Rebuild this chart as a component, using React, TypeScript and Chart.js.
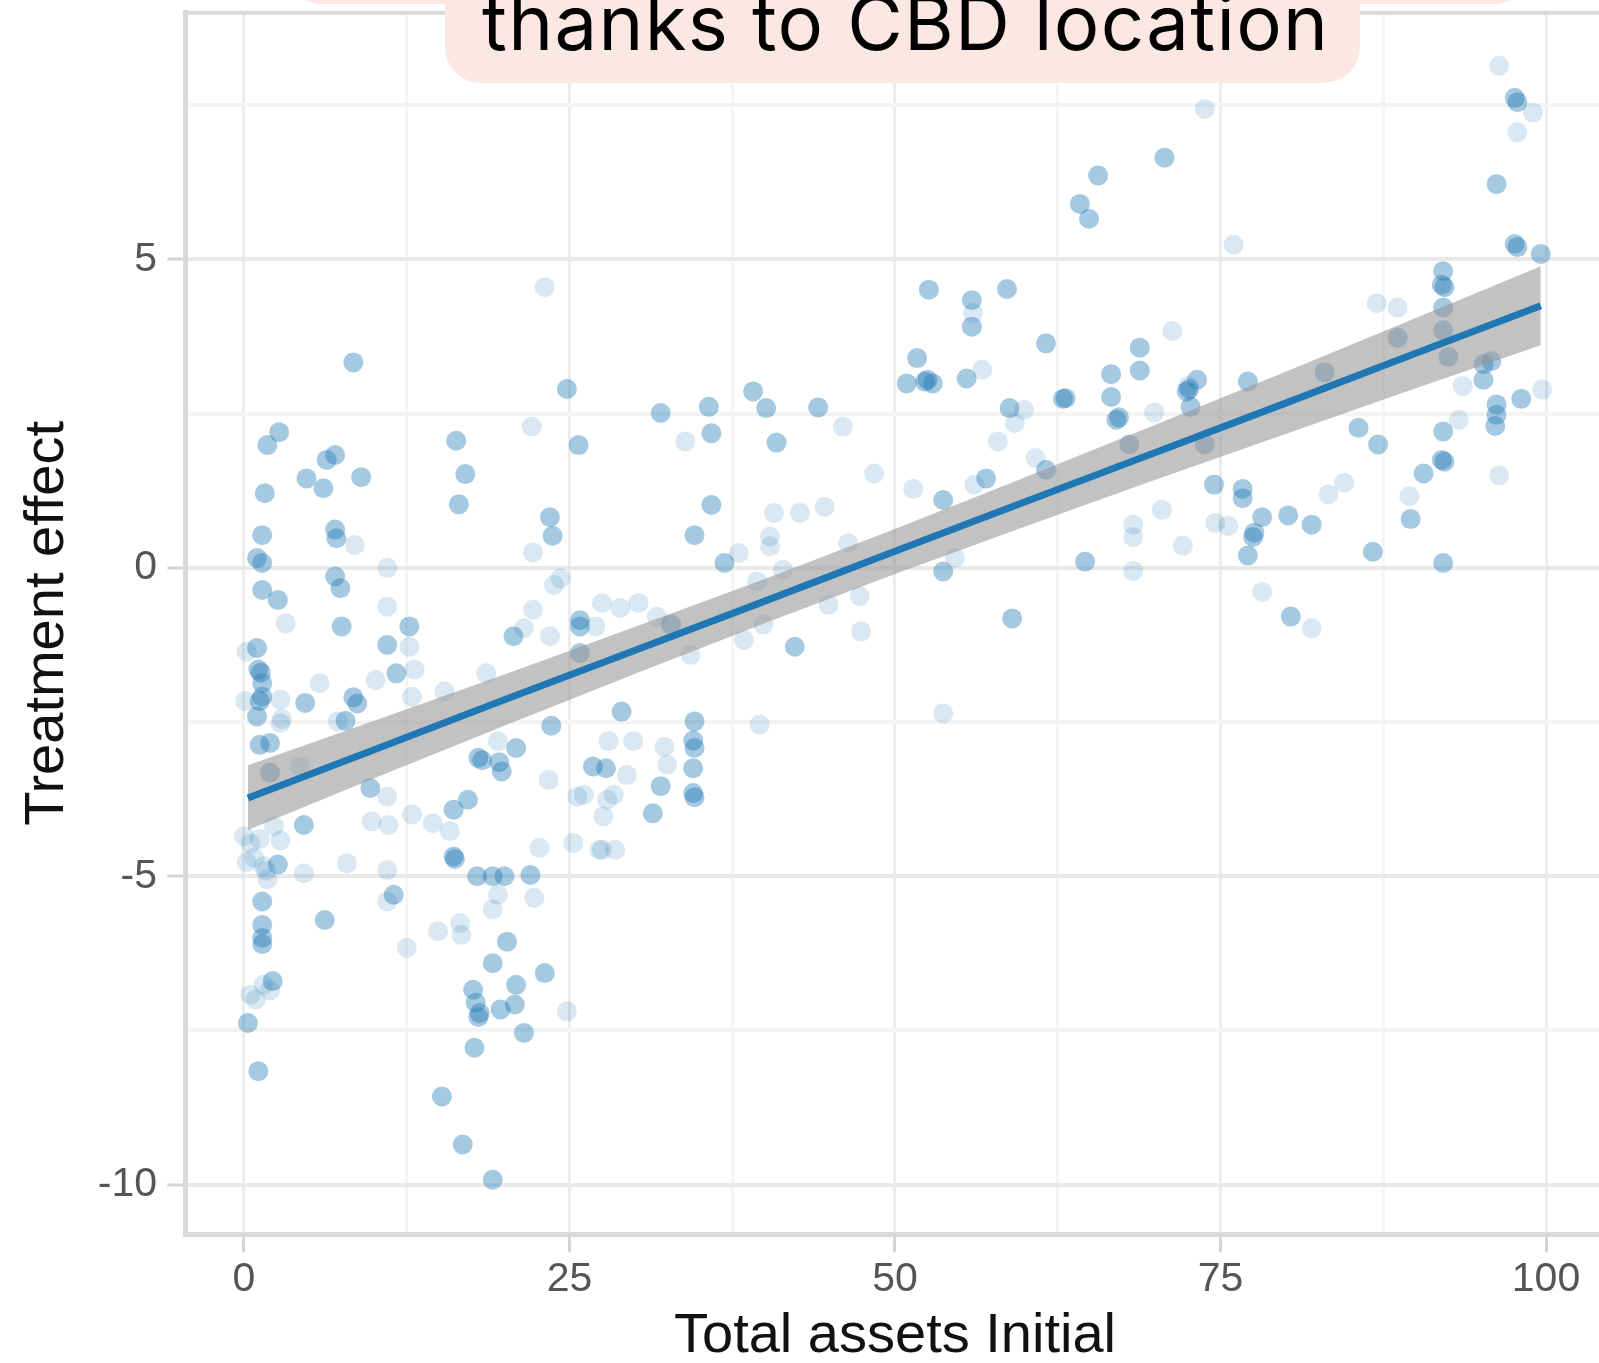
import React, { useEffect, useRef } from 'react';
import { Chart, registerables } from 'chart.js';

Chart.register(...registerables);

// ---------- text ----------
const titleText = 'thanks to CBD location';
const xTitle = 'Total assets Initial';
const yTitle = 'Treatment effect';

// ---------- ticks ----------
const xTicks = [0, 12.5, 25, 37.5, 50, 62.5, 75, 87.5, 100];
const yTicks = [-10, -7.5, -5, -2.5, 0, 2.5, 5, 7.5];
const xRange = [-4.5, 104.5];
const yRange = [-10.8, 9.0];

// ---------- linear fit and confidence band ----------
const fitX = [0.3, 10, 20, 30, 40, 50, 60, 70, 80, 90, 99.6];
const fitY = [-3.73, -2.95, -2.14, -1.34, -0.54, 0.27, 1.07, 1.87, 2.67, 3.48, 4.25];
const bandUpper = [-3.2, -2.48, -1.73, -0.96, -0.18, 0.63, 1.47, 2.32, 3.18, 4.05, 4.89];
const bandLower = [-4.25, -3.41, -2.56, -1.72, -0.9, -0.1, 0.67, 1.43, 2.17, 2.91, 3.61];

// ---------- observations (x = total assets initial, y = treatment effect) ----------
const mediumPoints: [number, number][] = [
  [8.4, 3.33], [24.8, 2.9], [2.7, 2.2], [1.8, 1.99], [16.3, 2.06], [25.7, 1.99], [6.35, 1.75], [7.0, 1.83],
  [4.8, 1.45], [6.1, 1.29], [9.0, 1.47], [17.0, 1.52], [1.6, 1.21], [16.5, 1.03], [23.5, 0.82], [23.7, 0.52],
  [1.4, 0.53], [1.0, 0.16], [1.4, 0.08], [7.0, 0.62], [7.1, 0.48], [7.0, -0.14], [7.4, -0.33], [1.4, -0.36],
  [2.6, -0.52], [7.5, -0.95], [12.7, -0.95], [11.0, -1.25], [25.8, -0.85], [25.8, -0.95], [20.7, -1.11],
  [25.8, -1.38], [1.1, -1.65], [1.3, -1.7], [1.4, -1.87], [1.4, -2.09], [1.0, -2.41], [4.7, -2.19], [8.4, -2.1],
  [8.7, -2.2], [11.7, -1.71], [7.8, -2.48],
  [1.2, -2.87], [2.0, -2.84], [9.7, -3.57], [4.6, -4.17], [16.1, -3.92], [17.2, -3.76], [18.0, -3.08],
  [19.6, -3.15], [19.8, -3.3], [18.3, -3.12], [20.9, -2.92], [26.8, -3.22], [27.8, -3.25], [16.1, -4.68],
  [16.2, -4.72], [17.9, -5.0], [19.1, -5.0], [20.0, -5.0], [22.0, -4.98], [11.5, -5.3], [2.6, -4.81],
  [1.4, -5.41], [1.4, -5.79], [1.4, -6.0], [1.4, -6.1], [6.2, -5.71], [20.2, -6.06], [19.1, -6.41],
  [23.1, -6.57], [17.6, -6.84], [20.9, -6.76], [20.8, -7.08], [18.1, -7.22], [18.0, -7.28], [17.8, -7.05],
  [19.7, -7.16], [21.5, -7.54], [17.7, -7.78], [0.3, -7.38], [1.1, -8.16], [15.2, -8.57], [16.8, -9.35],
  [19.1, -9.92], [2.2, -6.7], [23.6, -2.56], [1.0, -1.3], [1.2, -2.16], [2.0, -3.32],
  [52.6, 4.51], [55.9, 4.34], [55.9, 3.91], [58.6, 4.52], [61.6, 3.64], [51.7, 3.4], [50.9, 2.99], [52.3, 3.02],
  [52.5, 3.05], [52.9, 2.99], [55.5, 3.07], [63.1, 2.75], [58.8, 2.59], [32.0, 2.51], [35.7, 2.61], [35.9, 2.18],
  [39.1, 2.86], [40.1, 2.59], [40.9, 2.03], [44.1, 2.6], [53.7, 1.1], [57.0, 1.45], [61.6, 1.59], [35.9, 1.02],
  [34.6, 0.53], [36.9, 0.08], [53.7, -0.06], [64.6, 0.1], [32.8, -0.92], [42.3, -1.28], [59.0, -0.82],
  [29.0, -2.33], [34.6, -2.49], [34.5, -2.8], [34.6, -2.92], [34.5, -3.25], [34.5, -3.65], [34.6, -3.72],
  [32.0, -3.54], [31.4, -3.98],
  [97.6, 7.62], [97.8, 7.55], [70.7, 6.65], [65.6, 6.36], [64.2, 5.9], [64.9, 5.66], [96.2, 6.22], [97.6, 5.25],
  [97.8, 5.2], [99.6, 5.09], [92.1, 4.81], [92.0, 4.59], [92.2, 4.55], [68.8, 3.57], [68.8, 3.2], [66.6, 3.14],
  [66.6, 2.77], [62.9, 2.74], [67.0, 2.4], [67.2, 2.44], [73.2, 3.05], [72.4, 2.86], [72.6, 2.9], [72.7, 2.61],
  [77.1, 3.02], [83.0, 3.17], [88.6, 3.73], [92.1, 4.22], [92.1, 3.85], [92.5, 3.42], [95.2, 3.3], [95.8, 3.35],
  [95.2, 3.05], [96.2, 2.65], [96.2, 2.48], [96.1, 2.3], [98.1, 2.74], [92.1, 2.21], [92.0, 1.75], [92.2, 1.72],
  [90.6, 1.53], [89.6, 0.79], [86.7, 0.26], [92.1, 0.08], [85.6, 2.27], [87.1, 2.0], [74.5, 1.35], [76.7, 1.28],
  [76.7, 1.13], [78.2, 0.82], [77.6, 0.57], [77.5, 0.5], [77.1, 0.2], [80.2, 0.85], [82.0, 0.7], [80.4, -0.79],
  [68.0, 2.0], [73.8, 2.0],
];

const lightPoints: [number, number][] = [
  [23.1, 4.55], [22.1, 2.29], [22.2, 0.25], [8.5, 0.37], [11.0, 0.0], [3.2, -0.9], [11.0, -0.63], [23.8, -0.28],
  [24.3, -0.17], [27.5, -0.57], [27.0, -0.95], [21.5, -0.98], [22.2, -0.68], [23.5, -1.11], [12.7, -1.28],
  [5.8, -1.87], [13.1, -1.65], [10.1, -1.82], [18.6, -1.71], [15.4, -2.0], [12.9, -2.09], [2.8, -2.14],
  [2.8, -2.52], [7.2, -2.49], [4.3, -3.22], [11.0, -3.71], [9.8, -4.11], [11.1, -4.17], [12.9, -4.0],
  [14.5, -4.14], [15.8, -4.27], [19.5, -2.81], [23.4, -3.44], [25.6, -3.71], [27.6, -4.03], [27.9, -3.76],
  [25.3, -4.46], [27.3, -4.57], [22.7, -4.54], [19.5, -5.3], [22.3, -5.35], [19.1, -5.54], [11.0, -5.41],
  [7.9, -4.79], [4.6, -4.95], [1.5, -4.84], [0.8, -4.7], [1.8, -5.05], [12.5, -6.16], [14.9, -5.89],
  [16.6, -5.76], [16.7, -5.95], [24.8, -7.19], [1.5, -6.76], [2.0, -6.85], [0.5, -6.92], [0.9, -7.0],
  [1.2, -4.4], [0.5, -4.47], [2.3, -4.19], [0.2, -4.77], [1.7, -4.91], [0.1, -2.16], [0.2, -1.36], [2.9, -2.45],
  [0.0, -4.35], [2.8, -4.42], [28.0, -2.81], [29.9, -2.81], [32.3, -2.9], [29.4, -3.36], [32.5, -3.19],
  [26.1, -3.68], [28.4, -3.68], [27.5, -4.57], [28.5, -4.57], [39.6, -2.54], [53.7, -2.36], [11.0, -4.9],
  [56.0, 4.13], [56.7, 3.21], [59.9, 2.56], [59.2, 2.35], [57.9, 2.05], [33.9, 2.05], [46.0, 2.29], [48.4, 1.53],
  [51.4, 1.28], [60.8, 1.78], [56.1, 1.35], [40.7, 0.89], [42.7, 0.89], [44.6, 0.99], [40.4, 0.51], [40.4, 0.35],
  [38.0, 0.24], [46.4, 0.4], [54.6, 0.16], [41.4, -0.03], [39.4, -0.22], [28.9, -0.65], [30.3, -0.57],
  [31.7, -0.79], [47.3, -0.46], [44.9, -0.6], [47.4, -1.03], [39.9, -0.92], [38.4, -1.17], [34.3, -1.41],
  [96.4, 8.14], [99.0, 7.38], [97.8, 7.06], [73.8, 7.44], [76.0, 5.24], [87.0, 4.29], [88.6, 4.22], [71.3, 3.84],
  [69.9, 2.52], [93.6, 2.95], [99.7, 2.89], [93.3, 2.4], [89.5, 1.16], [96.4, 1.5], [84.5, 1.38], [83.3, 1.19],
  [70.5, 0.94], [68.3, 0.7], [68.3, 0.5], [72.1, 0.36], [74.6, 0.73], [75.6, 0.68], [68.3, -0.05], [78.2, -0.39],
  [82.0, -0.98], [72.5, 2.95],
];

// ---------- style ----------
const axisFont = '"Liberation Sans", Arial, sans-serif';
const CANVAS_W = 1620;
const CANVAS_H = 1400;

const isMajorX = (v: number) => Math.abs(v % 25) < 1e-9;
const isMajorY = (v: number) => Math.abs(v % 5) < 1e-9;

const panelTopPlugin = {
  id: 'panelTop',
  afterDraw(chart: any) {
    const { ctx, chartArea } = chart;
    ctx.save();
    ctx.strokeStyle = '#d9d9d9';
    ctx.lineWidth = 4;
    ctx.beginPath();
    ctx.moveTo(chartArea.left - 2.5, chartArea.top);
    ctx.lineTo(chartArea.right, chartArea.top);
    ctx.stroke();
    ctx.restore();
  },
};

const titleBoxPlugin = {
  id: 'titleBox',
  afterDraw(chart: any) {
    const ctx = chart.ctx as CanvasRenderingContext2D;
    ctx.save();
    ctx.fillStyle = '#fce8e2';
    ctx.beginPath();
    (ctx as any).roundRect(291, -130, 1234, 134, 30);
    ctx.fill();
    ctx.beginPath();
    (ctx as any).roundRect(445, -80, 915, 163, 36);
    ctx.fill();
    ctx.font = '400 76px Inter, "Open Sans", sans-serif';
    ctx.fillStyle = '#000000';
    ctx.textAlign = 'left';
    ctx.textBaseline = 'alphabetic';
    const w0 = ctx.measureText(titleText).width;
    const targetW = 846;
    const spacing = (targetW - w0) / (titleText.length - 1);
    (ctx as any).letterSpacing = spacing + 'px';
    ctx.fillText(titleText, 482, 50);
    ctx.restore();
  },
};

export default function App() {
  const ref = useRef<HTMLCanvasElement | null>(null);

  useEffect(() => {
    if (!ref.current) return;
    const chart = new Chart(ref.current, {
      type: 'scatter',
      data: {
        datasets: [
          {
            type: 'line',
            label: 'fit',
            data: fitX.map((x, i) => ({ x, y: fitY[i] })),
            borderColor: '#1f77b4',
            borderWidth: 7,
            pointRadius: 0,
            showLine: true,
            fill: false,
            tension: 0,
            order: 0,
          },
          {
            type: 'line',
            label: 'upper',
            data: fitX.map((x, i) => ({ x, y: bandUpper[i] })),
            borderColor: 'rgba(0,0,0,0)',
            borderWidth: 0,
            pointRadius: 0,
            showLine: true,
            fill: '+1',
            backgroundColor: 'rgba(150,150,150,0.58)',
            tension: 0,
            order: 1,
          },
          {
            type: 'line',
            label: 'lower',
            data: fitX.map((x, i) => ({ x, y: bandLower[i] })),
            borderColor: 'rgba(0,0,0,0)',
            borderWidth: 0,
            pointRadius: 0,
            showLine: true,
            fill: false,
            tension: 0,
            order: 1,
          },
          {
            label: 'light',
            data: lightPoints.map(([x, y]) => ({ x, y })),
            pointRadius: 10,
            pointBorderWidth: 0,
            borderWidth: 0,
            backgroundColor: 'rgba(31,119,180,0.17)',
            pointBackgroundColor: 'rgba(31,119,180,0.17)',
            order: 2,
          },
          {
            label: 'medium',
            data: mediumPoints.map(([x, y]) => ({ x, y })),
            pointRadius: 10,
            pointBorderWidth: 0,
            borderWidth: 0,
            backgroundColor: 'rgba(31,119,180,0.4)',
            pointBackgroundColor: 'rgba(31,119,180,0.4)',
            order: 3,
          },
        ],
      } as any,
      options: {
        responsive: false,
        animation: false,
        events: [],
        layout: { padding: { left: 0, top: 12.7, right: CANVAS_W - 1604.6, bottom: 0 } },
        plugins: {
          legend: { display: false },
          tooltip: { enabled: false },
          title: { display: false },
        },
        scales: {
          x: {
            type: 'linear',
            min: xRange[0],
            max: xRange[1],
            afterBuildTicks: (axis: any) => {
              axis.ticks = xTicks.map((v) => ({ value: v }));
            },
            afterFit: (axis: any) => {
              axis.height = CANVAS_H - 1234;
              axis.paddingLeft = 0;
              axis.paddingRight = 0;
            },
            grid: {
              color: (c: any) => (c.tick && isMajorX(c.tick.value) ? '#ececec' : '#f5f5f5'),
              lineWidth: 3,
              tickColor: (c: any) => (c.tick && isMajorX(c.tick.value) ? '#d4d4d4' : 'rgba(0,0,0,0)'),
              tickLength: 18,
              tickWidth: 3,
            },
            border: { display: true, color: '#d9d9d9', width: 5 },
            ticks: {
              autoSkip: false,
              maxRotation: 0,
              minRotation: 0,
              padding: 3,
              color: '#555555',
              font: { family: axisFont, size: 41 },
              callback: (v: any) => (isMajorX(Number(v)) ? String(v) : ''),
            },
            title: {
              display: true,
              text: xTitle,
              color: '#111111',
              font: { family: axisFont, size: 56 },
              padding: { top: 0, bottom: 29.4 },
            },
          },
          y: {
            type: 'linear',
            min: yRange[0],
            max: yRange[1],
            afterBuildTicks: (axis: any) => {
              axis.ticks = yTicks.map((v) => ({ value: v }));
            },
            afterFit: (axis: any) => {
              axis.width = 185.4;
              axis.paddingTop = 0;
              axis.paddingBottom = 0;
            },
            grid: {
              color: (c: any) => (c.tick && isMajorY(c.tick.value) ? '#e9e9e9' : '#f3f3f3'),
              lineWidth: 4,
              tickColor: (c: any) => (c.tick && isMajorY(c.tick.value) ? '#d4d4d4' : 'rgba(0,0,0,0)'),
              tickLength: 18,
              tickWidth: 3,
            },
            border: { display: true, color: '#d9d9d9', width: 5 },
            ticks: {
              autoSkip: false,
              padding: 10.4,
              color: '#555555',
              font: { family: axisFont, size: 41 },
              callback: (v: any) => (isMajorY(Number(v)) ? String(v) : ''),
            },
            title: {
              display: true,
              text: yTitle,
              color: '#111111',
              font: { family: axisFont, size: 56 },
              padding: { top: 14.4, bottom: 0 },
            },
          },
        },
      } as any,
      plugins: [panelTopPlugin, titleBoxPlugin],
    });
    return () => chart.destroy();
  }, []);

  return (
    <div
      style={{
        position: 'fixed',
        left: 0,
        top: 0,
        width: 1599,
        height: 1363,
        overflow: 'hidden',
        background: '#ffffff',
      }}
    >
      <canvas
        ref={ref}
        width={CANVAS_W}
        height={CANVAS_H}
        style={{ display: 'block', width: CANVAS_W, height: CANVAS_H }}
      />
    </div>
  );
}
